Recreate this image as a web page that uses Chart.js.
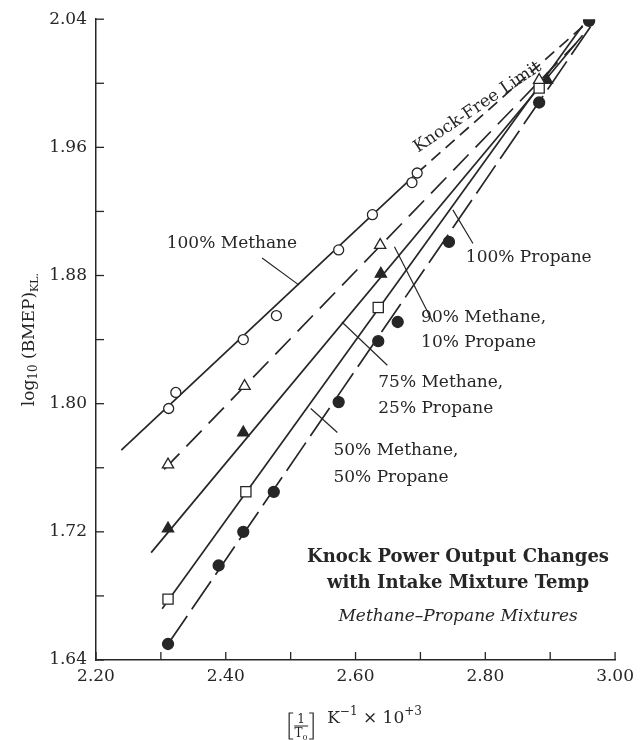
<!DOCTYPE html>
<html>
<head>
<meta charset="utf-8">
<script src="https://cdn.jsdelivr.net/npm/chart.js@4.4.1/dist/chart.umd.min.js"></script>
<style>
  html, body { margin: 0; padding: 0; background: #fff; }
  #wrap { width: 640px; height: 740px; }
</style>
</head>
<body>
<div id="wrap"><canvas id="knockChart" width="640" height="740"></canvas></div>
<script>
// Measured points (x = 1/T0 * 10^3, y = log10 BMEP at knock limit)
const methaneX = [2.312, 2.323, 2.427, 2.478, 2.574, 2.626, 2.687, 2.695];
const methaneY = [1.797, 1.807, 1.840, 1.855, 1.896, 1.918, 1.938, 1.944];
const m90X = [2.311, 2.429, 2.638, 2.883];
const m90Y = [1.762, 1.811, 1.899, 2.002];
const m75X = [2.311, 2.427, 2.639, 2.895];
const m75Y = [1.722, 1.782, 1.881, 2.002];
const m50X = [2.311, 2.431, 2.635, 2.883];
const m50Y = [1.678, 1.745, 1.860, 1.997];
const propaneX = [2.311, 2.389, 2.427, 2.474, 2.574, 2.635, 2.665, 2.744, 2.883, 2.960];
const propaneY = [1.650, 1.699, 1.720, 1.745, 1.801, 1.839, 1.851, 1.901, 1.988, 2.039];

// Fitted lines (end points)
const methaneFitX = [2.239, 2.695];
const methaneFitY = [1.771, 1.944];
const limitFitX = [2.695, 2.960];
const limitFitY = [1.944, 2.039];
const m90FitX = [2.305, 2.940];
const m90FitY = [1.759, 2.025];
const m75FitX = [2.285, 2.950];
const m75FitY = [1.707, 2.030];
const m50FitX = [2.302, 2.950];
const m50FitY = [1.672, 2.036];
const propaneFitX = [2.311, 2.965];
const propaneFitY = [1.650, 2.037];

// Axis ticks
const xMin = 2.20, xMax = 3.00, xStep = 0.10;
const yMin = 1.64, yMax = 2.04, yStep = 0.04;

const ink = '#262626';
const serif = "'DejaVu Serif', 'Liberation Serif', serif";

function pts(xs, ys) {
  return xs.map((v, i) => ({ x: v, y: ys[i] }));
}

function markers(xs, ys, style, filled, radius) {
  return {
    data: pts(xs, ys),
    showLine: false,
    pointStyle: style,
    pointRadius: radius,
    pointBackgroundColor: filled ? ink : '#fff',
    pointBorderColor: ink,
    pointBorderWidth: 1.3,
    order: 0
  };
}

function fitLine(xs, ys, dash) {
  return {
    data: pts(xs, ys),
    showLine: true,
    borderColor: ink,
    borderWidth: 1.7,
    borderDash: dash,
    pointRadius: 0,
    order: 1
  };
}

// draws a run of text pieces, each with its own size and vertical shift
function drawRich(ctx, parts, x, y, align) {
  let total = 0;
  parts.forEach(p => {
    ctx.font = (p.style || '') + ' ' + p.size + 'px ' + serif;
    p.w = ctx.measureText(p.t).width;
    total += p.w;
  });
  let cx = align === 'center' ? x - total / 2 : x;
  parts.forEach(p => {
    ctx.font = (p.style || '') + ' ' + p.size + 'px ' + serif;
    ctx.fillText(p.t, cx, y + (p.dy || 0));
    cx += p.w;
  });
  return total;
}

const annotate = {
  id: 'annotate',
  afterDraw(chart) {
    const { ctx, scales: { x, y } } = chart;
    const px = v => x.getPixelForValue(v);
    const py = v => y.getPixelForValue(v);
    ctx.save();
    ctx.strokeStyle = ink;
    ctx.fillStyle = ink;
    ctx.lineWidth = 1.3;

    // inward tick marks
    x.ticks.forEach(t => {
      const X = px(t.value);
      ctx.beginPath();
      ctx.moveTo(X, y.bottom);
      ctx.lineTo(X, y.bottom - 8);
      ctx.stroke();
    });
    y.ticks.forEach(t => {
      const Y = py(t.value);
      ctx.beginPath();
      ctx.moveTo(x.left, Y);
      ctx.lineTo(x.left + 8, Y);
      ctx.stroke();
    });

    // leader lines
    const leaders = [
      [2.456, 1.891, 2.513, 1.874],
      [2.750, 1.921, 2.781, 1.900],
      [2.660, 1.898, 2.719, 1.851],
      [2.579, 1.851, 2.649, 1.824],
      [2.531, 1.797, 2.572, 1.782]
    ];
    ctx.lineWidth = 1.2;
    leaders.forEach(l => {
      ctx.beginPath();
      ctx.moveTo(px(l[0]), py(l[1]));
      ctx.lineTo(px(l[2]), py(l[3]));
      ctx.stroke();
    });

    // series labels
    ctx.textBaseline = 'middle';
    ctx.textAlign = 'left';
    ctx.font = '17px ' + serif;
    const labels = [
      ['100% Methane', 2.309, 1.900],
      ['100% Propane', 2.770, 1.891],
      ['90% Methane,', 2.701, 1.854],
      ['10% Propane', 2.701, 1.838],
      ['75% Methane,', 2.635, 1.813],
      ['25% Propane', 2.635, 1.797],
      ['50% Methane,', 2.566, 1.771],
      ['50% Propane', 2.566, 1.754]
    ];
    labels.forEach(l => ctx.fillText(l[0], px(l[1]), py(l[2])));

    // knock-free limit, written along the dashed line
    ctx.save();
    ctx.translate(px(2.788), py(1.985));
    ctx.rotate(-34 * Math.PI / 180);
    ctx.textAlign = 'center';
    ctx.fillText('Knock-Free Limit', 0, 0);
    ctx.restore();

    // caption
    ctx.textAlign = 'center';
    const capX = px(2.758);
    ctx.font = 'bold 18px ' + serif;
    ctx.fillText('Knock Power Output Changes', capX, py(1.704));
    ctx.fillText('with Intake Mixture Temp', capX, py(1.688));
    ctx.font = 'italic 17px ' + serif;
    ctx.fillText('Methane\u2013Propane Mixtures', capX, py(1.667));

    // y axis title
    ctx.save();
    ctx.translate(30, (y.top + y.bottom) / 2 + 0);
    ctx.rotate(-Math.PI / 2);
    ctx.textAlign = 'left';
    ctx.textBaseline = 'middle';
    drawRich(ctx, [
      { t: 'log', size: 17 },
      { t: '10', size: 12, dy: 4 },
      { t: ' (BMEP)', size: 17 },
      { t: 'KL.', size: 11, dy: 5 }
    ], 0, 0, 'center');
    ctx.restore();

    // x axis title: [1/T0] K^-1 x 10^+3
    const midX = (x.left + x.right) / 2;
    const base = y.bottom + 63;
    ctx.textBaseline = 'alphabetic';
    ctx.textAlign = 'left';
    const rest = [
      { t: 'K', size: 17 },
      { t: '\u22121', size: 12, dy: -8 },
      { t: ' \u00d7 10', size: 17 },
      { t: '+3', size: 12, dy: -8 }
    ];
    let restW = 0;
    rest.forEach(p => { ctx.font = p.size + 'px ' + serif; restW += ctx.measureText(p.t).width; });
    const fracW = 24, gap = 14;
    const x0 = midX - (fracW + gap + restW) / 2;
    const top = y.bottom + 53, bot = y.bottom + 79;
    ctx.lineWidth = 1.2;
    ctx.beginPath();
    ctx.moveTo(x0 + 4, top); ctx.lineTo(x0, top); ctx.lineTo(x0, bot); ctx.lineTo(x0 + 4, bot);
    ctx.moveTo(x0 + fracW - 4, top); ctx.lineTo(x0 + fracW, top); ctx.lineTo(x0 + fracW, bot); ctx.lineTo(x0 + fracW - 4, bot);
    ctx.moveTo(x0 + 5, y.bottom + 66); ctx.lineTo(x0 + fracW - 5, y.bottom + 66);
    ctx.stroke();
    ctx.textAlign = 'center';
    ctx.font = '12px ' + serif;
    ctx.fillText('1', x0 + fracW / 2, y.bottom + 63);
    ctx.textAlign = 'left';
    drawRich(ctx, [
      { t: 'T', size: 12 },
      { t: '0', size: 8, dy: 3 }
    ], x0 + fracW / 2, y.bottom + 77, 'center');
    drawRich(ctx, rest, x0 + fracW + gap, base, 'left');

    ctx.restore();
  }
};

new Chart(document.getElementById('knockChart'), {
  type: 'scatter',
  data: {
    datasets: [
      markers(methaneX, methaneY, 'circle', false, 5),
      markers(m90X, m90Y, 'triangle', false, 6.5),
      markers(m75X, m75Y, 'triangle', true, 6.5),
      markers(m50X, m50Y, 'rect', false, 7.2),
      markers(propaneX, propaneY, 'circle', true, 5.5),
      fitLine(methaneFitX, methaneFitY, []),
      fitLine(limitFitX, limitFitY, [12, 7]),
      fitLine(m90FitX, m90FitY, [22, 10]),
      fitLine(m75FitX, m75FitY, []),
      fitLine(m50FitX, m50FitY, []),
      fitLine(propaneFitX, propaneFitY, [34, 8])
    ]
  },
  options: {
    responsive: false,
    animation: false,
    layout: { padding: { top: 19, right: 22, bottom: 0, left: 0 } },
    plugins: {
      legend: { display: false },
      tooltip: { enabled: false }
    },
    scales: {
      x: {
        type: 'linear',
        min: xMin,
        max: xMax,
        afterFit: s => { s.height = 80; },
        ticks: {
          stepSize: xStep,
          autoSkip: false,
          maxRotation: 0,
          padding: 6,
          color: ink,
          font: { family: serif, size: 17 },
          callback: (v, i) => (i % 2 === 0 ? v.toFixed(2) : '')
        },
        grid: { drawOnChartArea: false, drawTicks: false },
        border: { color: ink, width: 1.5 }
      },
      y: {
        type: 'linear',
        min: yMin,
        max: yMax,
        afterFit: s => { s.width = 96; },
        ticks: {
          stepSize: yStep,
          autoSkip: false,
          padding: 9,
          color: ink,
          font: { family: serif, size: 17 },
          callback: (v, i) => (i % 2 === 0 ? v.toFixed(2) : '')
        },
        grid: { drawOnChartArea: false, drawTicks: false },
        border: { color: ink, width: 1.5 }
      }
    }
  },
  plugins: [annotate]
});
</script>
</body>
</html>
